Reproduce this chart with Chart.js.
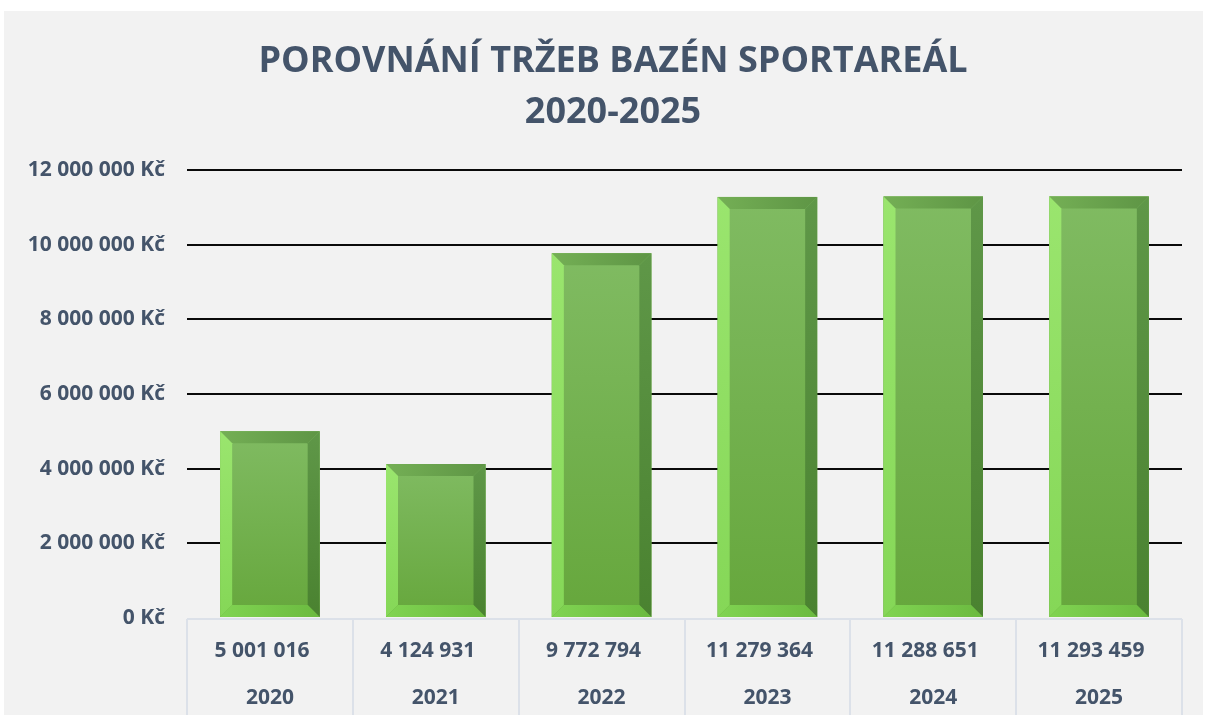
<!DOCTYPE html>
<html>
<head>
<meta charset="utf-8">
<script src="https://cdn.jsdelivr.net/npm/chart.js@4.4.1/dist/chart.umd.min.js"></script>
<style>
  html, body { margin: 0; padding: 0; background: #fff; }
  #wrap { width: 1205px; height: 715px; }
</style>
</head>
<body>
<div id="wrap"><canvas id="chart" width="1205" height="715"></canvas></div>
<script>
var years = ["2020", "2021", "2022", "2023", "2024", "2025"];
var revenue = [5001016, 4124931, 9772794, 11279364, 11288651, 11293459];
var titleLines = ["POROVNÁNÍ TRŽEB BAZÉN SPORTAREÁL", "2020-2025"];

var textColor = "#44546A";
var fontFamily = "'Open Sans', 'Noto Sans', sans-serif";

function spaced(n) {
  return String(n).replace(/\B(?=(\d{3})+(?!\d))/g, " ");
}

// grey panel behind the chart
var panelBg = {
  id: "panelBg",
  beforeDraw: function (chart) {
    var c = chart.ctx;
    c.save();
    c.fillStyle = "#fff";
    c.fillRect(0, 0, chart.width, chart.height);
    c.fillStyle = "#F2F2F2";
    c.fillRect(4, 11, chart.width - 6, chart.height - 11);
    c.restore();
  }
};

// two-line title, centred a bit right of the canvas middle like the original
var title = {
  id: "bigTitle",
  afterDraw: function (chart) {
    var c = chart.ctx;
    c.save();
    c.fillStyle = textColor;
    c.font = "bold 36px " + fontFamily;
    c.textAlign = "center";
    c.textBaseline = "middle";
    titleLines.forEach(function (line, i) {
      c.fillText(line, 613, 62 + i * 51);
    });
    c.restore();
  }
};

// bevelled look on each bar
var bevel = {
  id: "bevel",
  afterDatasetsDraw: function (chart) {
    var c = chart.ctx;
    var meta = chart.getDatasetMeta(0);
    meta.data.forEach(function (bar) {
      var p = bar.getProps(["x", "y", "base", "width"], true);
      var l = p.x - p.width / 2, r = p.x + p.width / 2, t = p.y, b = p.base;
      var s = 12;
      c.save();

      var g = c.createLinearGradient(0, t, 0, b);
      g.addColorStop(0, "#80BB62");
      g.addColorStop(1, "#66A73C");
      c.fillStyle = g;
      c.fillRect(l, t, r - l, b - t);

      // top
      g = c.createLinearGradient(l, 0, r, 0);
      g.addColorStop(0, "#74AF55");
      g.addColorStop(1, "#5E9545");
      c.fillStyle = g;
      c.beginPath();
      c.moveTo(l, t); c.lineTo(r, t); c.lineTo(r - s, t + s); c.lineTo(l + s, t + s);
      c.closePath(); c.fill();

      // left
      g = c.createLinearGradient(0, t, 0, b);
      g.addColorStop(0, "#9AE56E");
      g.addColorStop(1, "#85D757");
      c.fillStyle = g;
      c.beginPath();
      c.moveTo(l, t); c.lineTo(l + s, t + s); c.lineTo(l + s, b - s); c.lineTo(l, b);
      c.closePath(); c.fill();

      // right
      g = c.createLinearGradient(0, t, 0, b);
      g.addColorStop(0, "#5F9748");
      g.addColorStop(1, "#4A8230");
      c.fillStyle = g;
      c.beginPath();
      c.moveTo(r, t); c.lineTo(r, b); c.lineTo(r - s, b - s); c.lineTo(r - s, t + s);
      c.closePath(); c.fill();

      // bottom
      g = c.createLinearGradient(l, 0, r, 0);
      g.addColorStop(0, "#80D452");
      g.addColorStop(1, "#6BBA40");
      c.fillStyle = g;
      c.beginPath();
      c.moveTo(l, b); c.lineTo(l + s, b - s); c.lineTo(r - s, b - s); c.lineTo(r, b);
      c.closePath(); c.fill();

      c.restore();
    });
  }
};

// data table under the x axis
var dataTable = {
  id: "dataTable",
  afterDraw: function (chart) {
    var c = chart.ctx, xs = chart.scales.x, area = chart.chartArea;
    var top = area.bottom + 1, bottom = chart.height;
    c.save();
    c.strokeStyle = "#DCE1E9";
    c.lineWidth = 2;
    c.beginPath();
    c.moveTo(area.left, top); c.lineTo(area.right, top);
    for (var i = 0; i <= years.length; i++) {
      var bx = Math.round(xs.getPixelForValue(i - 0.5));
      c.moveTo(bx, top); c.lineTo(bx, bottom);
    }
    c.stroke();

    c.fillStyle = textColor;
    c.font = "bold 21px " + fontFamily;
    c.textAlign = "center";
    c.textBaseline = "middle";
    years.forEach(function (yr, i) {
      var cx = xs.getPixelForValue(i);
      c.fillText(spaced(revenue[i]), cx - 8, top + 32);
      c.fillText(yr, cx, top + 79);
    });
    c.restore();
  }
};

document.fonts.load("bold 20px 'Open Sans'").then(function () {
  new Chart(document.getElementById("chart"), {
    type: "bar",
    data: {
      labels: years,
      datasets: [{
        data: revenue,
        backgroundColor: "#6DAE47",
        borderWidth: 0,
        categoryPercentage: 1,
        barPercentage: 0.6
      }]
    },
    options: {
      responsive: false,
      animation: false,
      layout: { padding: { left: 0, right: 23, top: 170, bottom: 0 } },
      plugins: {
        legend: { display: false },
        tooltip: { enabled: false },
        title: { display: false }
      },
      scales: {
        x: {
          grid: { display: false },
          border: { display: false },
          ticks: { display: false },
          afterFit: function (scale) { scale.height = 97; }
        },
        y: {
          min: 0,
          max: 12000000,
          border: { display: false },
          grid: {
            drawTicks: false,
            lineWidth: 2,
            color: function (ctx) {
              return ctx.tick && ctx.tick.value === 0 ? "rgba(0,0,0,0)" : "#0A0A0A";
            }
          },
          ticks: {
            stepSize: 2000000,
            padding: 22,
            color: textColor,
            font: { family: fontFamily, size: 21, weight: "bold" },
            callback: function (v) { return spaced(v) + " Kč"; }
          },
          afterFit: function (scale) { scale.width = 187; }
        }
      }
    },
    plugins: [panelBg, bevel, dataTable, title]
  });
});
</script>
</body>
</html>
